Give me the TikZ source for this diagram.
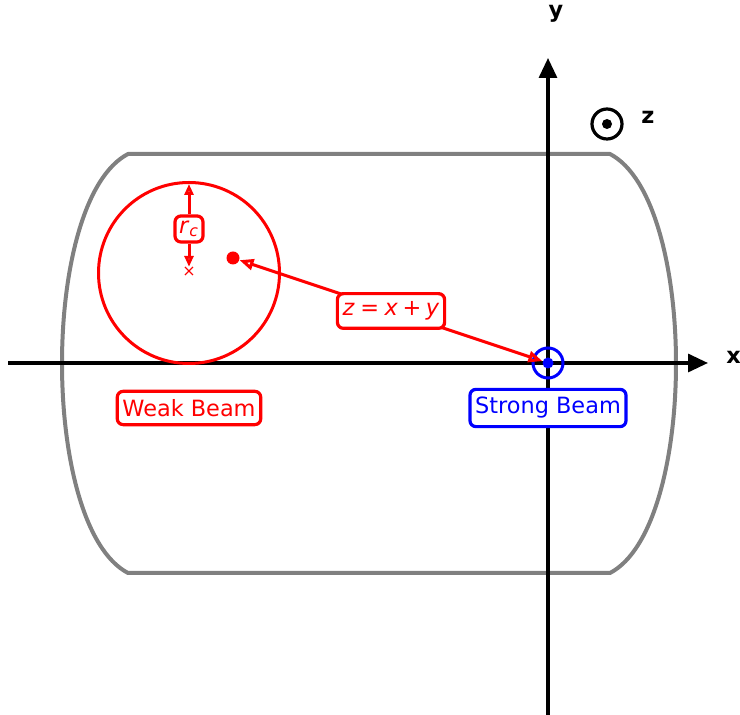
\documentclass[tikz,border=0pt]{standalone}
\usepackage{fontspec}
\setmainfont{DejaVu Sans}
\usetikzlibrary{arrows.meta}
\definecolor{shellgray}{RGB}{128,128,128}
\tikzset{
  axis/.style={line width=1.6pt, -{Triangle[length=10pt,width=9pt]}},
  axislabel/.style={font=\fontsize{11.2}{13.4}\selectfont\bfseries, inner sep=1pt},
  labelbox/.style={draw, line width=1.6pt, rounded corners=3pt, fill=white,
    inner xsep=2.6pt, inner ysep=4pt, font=\fontsize{11.2}{13.4}\selectfont},
  redbox/.style={labelbox, draw=red, text=red},
  bluebox/.style={labelbox, draw=blue, text=blue},
  redline/.style={red, line width=1.5pt},
  opentip/.style={{Triangle[open,length=7pt,width=5.5pt]}-{Triangle[open,length=7pt,width=5.5pt]}},
  smalltip/.style={-{Triangle[open,length=5.5pt,width=4.5pt]}},
}
\begin{document}
\begin{tikzpicture}[x=0.5pt,y=-0.5pt]
\useasboundingbox (0,0) rectangle (740,715);
% grey shell
\draw[shellgray, line width=2pt, line join=round]
  (128,154) -- (610,154) .. controls (698,200) and (698,527) .. (610,573)
  -- (128,573) .. controls (40,527) and (40,200) .. cycle;
% axes
\coordinate (xs) at (8,363);
\coordinate (xe) at (708,363);
\coordinate (ys) at (548,715);
\coordinate (ye) at (548,58);
\draw[axis] (xs) -- (xe);
\draw[axis] (ys) -- (ye);
\node[axislabel, anchor=west] (xl) at (724,357) {x};
\node[axislabel] (yl) at (556,14) {y};
\node[axislabel] (zl) at (648,117) {z};
% z symbol
\node[draw, circle, line width=1.6pt, minimum size=15pt, inner sep=0pt] (zc) at (607,124) {};
\node[fill, circle, minimum size=5pt, inner sep=0pt] (zd) at (607,124) {};
% weak beam circle
\node[draw=red, circle, line width=1.5pt, minimum size=90.5pt, inner sep=0pt] (wc) at (189,273) {};
\node[red, inner sep=0pt, font=\fontsize{8}{9}\selectfont] (cx) at (189,272) {×};
\coordinate (rtop) at (189,184);
\node[redbox, inner xsep=2pt, inner ysep=2.5pt] (rc) at (189,229) {\textit{r}\textsubscript{\textit{c}}};
\draw[redline, smalltip] (rc) -- (rtop);
\draw[redline, smalltip] (rc) -- (cx);
% red dot
\node[fill=red, circle, minimum size=6.5pt, inner sep=0pt] (rd) at (233,258) {};
% strong beam
\node[draw=blue, circle, line width=1.5pt, minimum size=15pt, inner sep=0pt] (sc) at (548,363) {};
\node[fill=blue, circle, minimum size=5.5pt, inner sep=0pt] (sd) at (548,363) {};
% arrow
\draw[redline, opentip] (rd) -- (sd);
\node[redbox] (zx) at (391,311) {\textit{z}\hspace{0.25em}=\hspace{0.25em}\textit{x}\hspace{0.2em}+\hspace{0.2em}\textit{y}};
% beam labels
\node[redbox] (wb) at (189,408) {Weak Beam};
\node[bluebox] (sb) at (548,408) {Strong Beam};
\end{tikzpicture}
\end{document}
